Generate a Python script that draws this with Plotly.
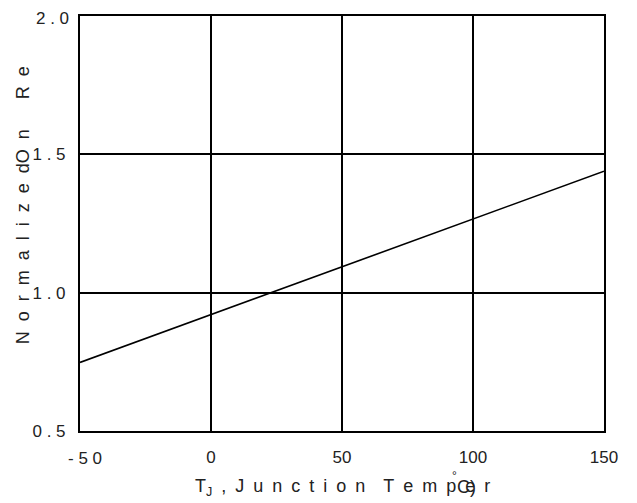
import plotly.graph_objects as go

# Data
temp_c = [-50, 0, 50, 100, 150]
ron_norm = [0.748, 0.921, 1.093, 1.266, 1.439]

x_tickvals = [-50, 0, 50, 100, 150]
x_ticktext = ["-\u00a05\u00a00", "0", "50", "100", "150"]
y_tickvals = [0.5, 1.0, 1.5, 2.0]
y_ticktext = ["0\u00a0.\u00a05", "1\u00a0.\u00a00", "1\u00a0.\u00a05", "2\u00a0.\u00a00"]

G = "\u00a0\u00a0"
y_title = G.join(list("Normalized")) + "O" + G + "n" + G * 3 + "R" + G + "e"
E = "\u2002"
x_title = ("T<sub>J</sub>" + E + "," + E + E.join(list("Junction")) + E * 2
           + E.join(list("Temper")))

FONT = "Liberation Sans, Arial, sans-serif"

# page body has an 8px margin, so the figure is drawn at (8, 8)
fig = go.Figure()
fig.add_trace(go.Scatter(x=temp_c, y=ron_norm, mode="lines",
                         line=dict(color="black", width=1.6),
                         showlegend=False, hoverinfo="skip"))

annotations = [
    dict(text=x_title, xref="paper", yref="paper", x=0.5, y=-0.135,
         xanchor="center", yanchor="middle", showarrow=False,
         font=dict(size=18, color="#222")),
    dict(text="\u00b0", xref="paper", yref="paper",
         x=(454 - 80) / 524, y=(431 - 476) / 415.4,
         xanchor="center", yanchor="middle", showarrow=False,
         font=dict(size=12, color="#222")),
    dict(text="C)", xref="paper", yref="paper",
         x=(455 - 80) / 524, y=-0.135,
         xanchor="left", yanchor="middle", showarrow=False,
         font=dict(size=18, color="#222")),
    dict(text=y_title, xref="paper", yref="paper",
         x=(23 - 80) / 524, y=(431 - 205) / 415.4,
         xanchor="center", yanchor="middle", textangle=-90,
         showarrow=False, font=dict(size=18, color="#222")),
]
# the top y tick label sits at the very edge of the figure; draw it as text
annotations.append(dict(text=y_ticktext[-1], xref="paper", yref="y",
                        x=0, y=y_tickvals[-1], xanchor="right",
                        yanchor="middle", xshift=-9, yshift=-2,
                        showarrow=False, font=dict(size=17, color="#222")))
# the first x tick label is set a little right of its tick in the reference
annotations.append(dict(text=x_ticktext[0], xref="x", yref="paper",
                        x=x_tickvals[0], y=0, xanchor="center",
                        yanchor="top", xshift=5, yshift=-16,
                        showarrow=False, font=dict(size=17, color="#222")))

fig.update_layout(
    width=629, height=495,
    margin=dict(l=72, r=33, t=8, b=72, autoexpand=False),
    paper_bgcolor="white", plot_bgcolor="white",
    font=dict(family=FONT, size=17, color="#222"),
    xaxis=dict(range=[-50, 150], tickvals=x_tickvals[1:],
               ticktext=x_ticktext[1:],
               showgrid=True, gridcolor="black", gridwidth=2,
               showline=True, linecolor="black", linewidth=2, mirror=True,
               ticks="", ticklabelstandoff=10, zeroline=False, automargin=False,
               tickfont=dict(size=17)),
    yaxis=dict(range=[0.5, 2.0], tickvals=y_tickvals[:-1],
               ticktext=y_ticktext[:-1],
               showgrid=True, gridcolor="black", gridwidth=2,
               showline=True, linecolor="black", linewidth=2, mirror=True,
               ticks="", ticklabelstandoff=9, zeroline=False, automargin=False,
               tickfont=dict(size=17)),
    annotations=annotations,
)

fig.write_html("out.html")
